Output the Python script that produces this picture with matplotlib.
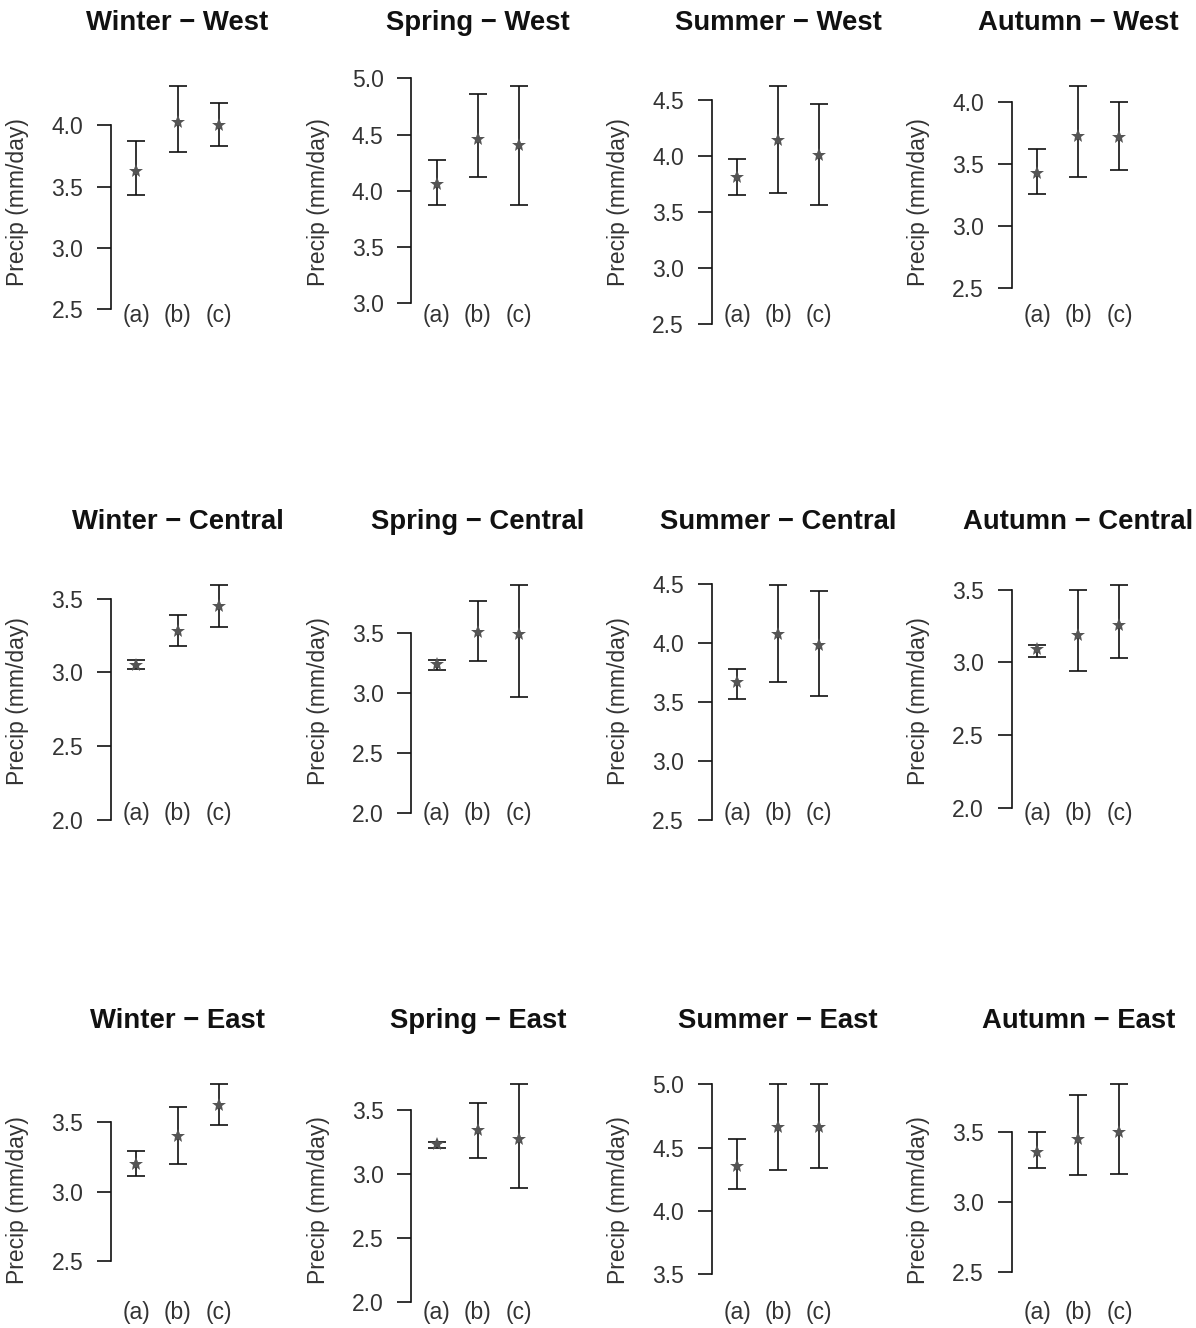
import numpy as np
import matplotlib
matplotlib.use("Agg")
import matplotlib.pyplot as plt
import matplotlib.transforms as mtransforms

plt.rcParams['font.family'] = ['Liberation Sans', 'DejaVu Sans']

seasons = ["Winter", "Spring", "Summer", "Autumn"]
regions = ["West", "Central", "East"]
groups = ["(a)", "(b)", "(c)"]

# rows: season (Winter, Spring, Summer, Autumn); cols: groups (a), (b), (c)
west_mean = [[3.63, 4.03, 4.00], [4.06, 4.46, 4.41], [3.81, 4.14, 4.01], [3.43, 3.73, 3.72]]
west_lo = [[3.43, 3.78, 3.83], [3.87, 4.12, 3.87], [3.65, 3.67, 3.56], [3.26, 3.40, 3.45]]
west_hi = [[3.87, 4.32, 4.18], [4.27, 4.86, 4.93], [3.97, 4.62, 4.46], [3.62, 4.13, 4.00]]

central_mean = [[3.05, 3.28, 3.45], [3.24, 3.51, 3.49], [3.67, 4.08, 3.98], [3.09, 3.19, 3.26]]
central_lo = [[3.02, 3.18, 3.31], [3.19, 3.27, 2.97], [3.53, 3.67, 3.55], [3.04, 2.94, 3.03]]
central_hi = [[3.08, 3.39, 3.59], [3.28, 3.77, 3.90], [3.78, 4.49, 4.44], [3.12, 3.50, 3.53]]

east_mean = [[3.20, 3.40, 3.62], [3.23, 3.34, 3.27], [4.35, 4.66, 4.66], [3.36, 3.45, 3.50]]
east_lo = [[3.11, 3.20, 3.48], [3.20, 3.12, 2.89], [4.17, 4.32, 4.34], [3.24, 3.19, 3.20]]
east_hi = [[3.29, 3.61, 3.77], [3.25, 3.55, 3.70], [4.57, 5.00, 5.00], [3.50, 3.76, 3.84]]

region_data = {
    "West": (west_mean, west_lo, west_hi),
    "Central": (central_mean, central_lo, central_hi),
    "East": (east_mean, east_lo, east_hi),
}

W, H = 1196, 1328
fig = plt.figure(figsize=(W / 100, H / 100), dpi=100)
fs = 16.5
txt = "#333333"

x = np.arange(1, 4)
for r, reg in enumerate(regions):
    mean, lo, hi = region_data[reg]
    for c, sea in enumerate(seasons):
        left = (111 + 300.3 * c) / W
        top = 77 + 499 * r
        ax = fig.add_axes([left, 1 - (top + 250) / H, 133 / W, 250 / H])
        m = np.array(mean[c])
        l = np.array(lo[c])
        h = np.array(hi[c])
        ax.errorbar(x, m, yerr=[m - l, h - m], fmt='none', ecolor='#111111',
                    elinewidth=1.2, capsize=6.5, capthick=1.2)
        ax.plot(x, m, linestyle='none', marker='*', markersize=10,
                color='#555555', markeredgewidth=0)

        # R style limits: ylim = c(min(lower) - 1, max(upper)), 4% padding
        y0, y1 = l.min() - 1, h.max()
        pad = 0.04 * (y1 - y0)
        ax.set_ylim(y0 - pad, y1 + pad)
        ax.set_xlim(0.5 - 0.12, 3.5 + 0.12)
        ticks = np.arange(np.ceil((y0 - pad) * 2) / 2, y1 + pad + 1e-9, 0.5)
        ax.set_yticks(ticks)
        ax.set_yticklabels([f"{t:.1f}" for t in ticks], fontsize=fs, color=txt)
        ax.tick_params(axis='y', length=10, width=1.2, pad=10, color='#111111')
        ax.set_xticks([])
        for s in ("top", "right", "bottom"):
            ax.spines[s].set_visible(False)
        ax.spines["left"].set_bounds(ticks[0], ticks[-1])
        ax.spines["left"].set_linewidth(1.2)
        ax.spines["left"].set_color('#111111')
        ax.patch.set_alpha(0)

        trans = mtransforms.blended_transform_factory(ax.transData, ax.transAxes)
        for xi, g in zip(x, groups):
            ax.text(xi, 0.048, g, transform=trans, ha='center', va='center',
                    fontsize=fs, color=txt)

        ax.text(-0.70, 0.5, "Precip (mm/day)", transform=ax.transAxes,
                rotation=90, ha='center', va='center', fontsize=fs, color=txt)
        ax.text(0.5, 1 + 54 / 250, f"{sea} \u2212 {reg}", transform=ax.transAxes,
                ha='center', va='center', fontsize=fs * 1.2, fontweight='bold',
                color='#111111')

fig.savefig("out.png", dpi=100)
